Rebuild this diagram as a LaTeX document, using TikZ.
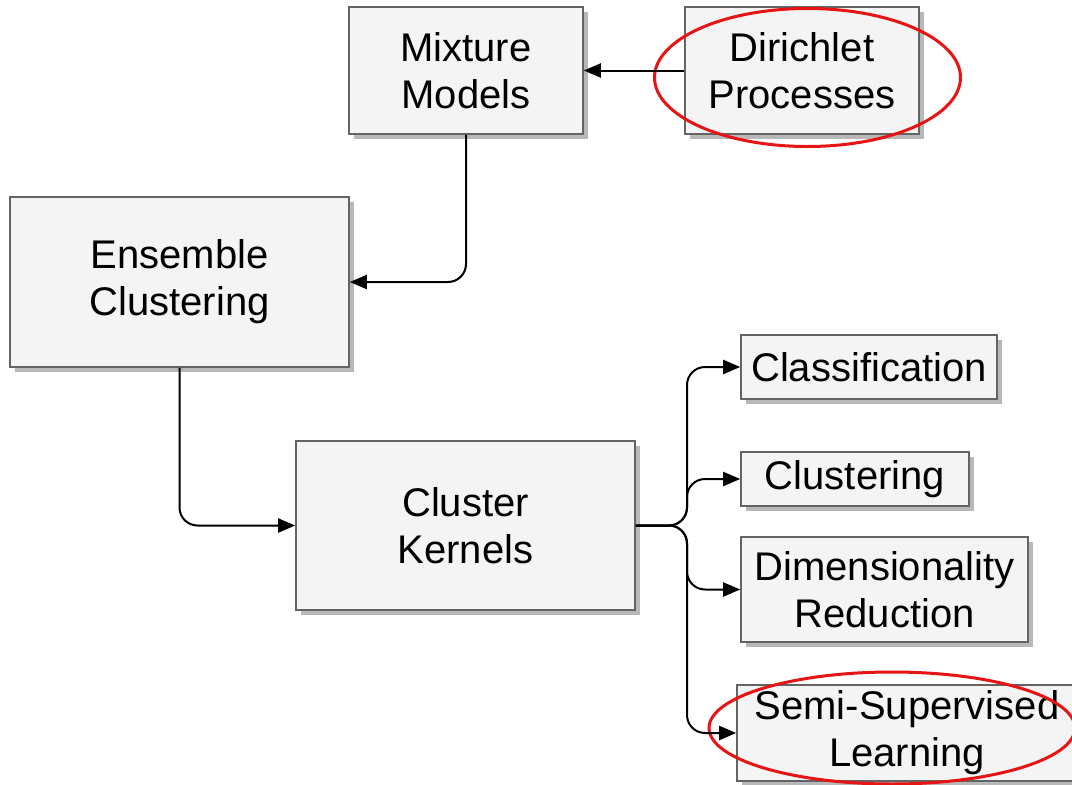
\documentclass[tikz,border=0pt]{standalone}
\usepackage{fontspec}
\setmainfont{Liberation Sans}
\usetikzlibrary{arrows.meta,shadows}
\definecolor{boxfill}{RGB}{244,244,244}
\definecolor{boxline}{RGB}{100,100,100}
\definecolor{hl}{RGB}{230,20,20}
\begin{document}
\begin{tikzpicture}[x=1pt,y=-1pt,
  box/.style={draw=boxline,line width=1.6pt,fill=boxfill,align=center,inner sep=0pt,
    font=\fontsize{40}{47}\selectfont,
    drop shadow={shadow xshift=5pt,shadow yshift=-5pt,fill=black!28,opacity=1}},
  conn/.style={line width=2pt,-{Triangle[length=17pt,width=14pt]},rounded corners=18pt},
  ring/.style={draw=hl,line width=3pt}]
\useasboundingbox (0,0) rectangle (1072,785);
\node[box,minimum width=234pt,minimum height=127pt] (mix) at (466,70.5) {Mixture\\Models};
\node[box,minimum width=234pt,minimum height=127pt] (dir) at (802,70.5) {Dirichlet\\Processes};
\node[box,minimum width=339pt,minimum height=170pt] (ens) at (179.5,282) {Ensemble\\Clustering};
\node[box,minimum width=339pt,minimum height=169pt] (ck) at (465.5,525.5) {Cluster\\Kernels};
\node[box,minimum width=256pt,minimum height=64pt] (cls) at (869,367) {Classification};
\node[box,minimum width=228pt,minimum height=54pt] (clu) at (855,479) {Clustering};
\node[box,minimum width=287pt,minimum height=105pt] (dim) at (884.5,589.5) {Dimensionality\\Reduction};
\node[box,minimum width=340pt,minimum height=96pt] (ssl) at (907,733) {Semi-Supervised\\Learning};
\draw[ring] (807.5,77.5) ellipse [x radius=153pt,y radius=69pt];
\draw[ring] (892,728) ellipse [x radius=183pt,y radius=56pt];
\draw[conn] (dir.west) -- (mix.east);
\draw[conn] (mix.south) |- (ens.east);
\draw[conn] (ens.south) |- (ck.west);
\coordinate (br) at (687,525.5);
\draw[conn] (ck.east) -- (br) |- (cls.west);
\draw[conn] (ck.east) -- (br) |- (clu.west);
\draw[conn] (ck.east) -- (br) |- (dim.west);
\draw[conn] (ck.east) -- (br) |- (ssl.west);
\end{tikzpicture}
\end{document}
